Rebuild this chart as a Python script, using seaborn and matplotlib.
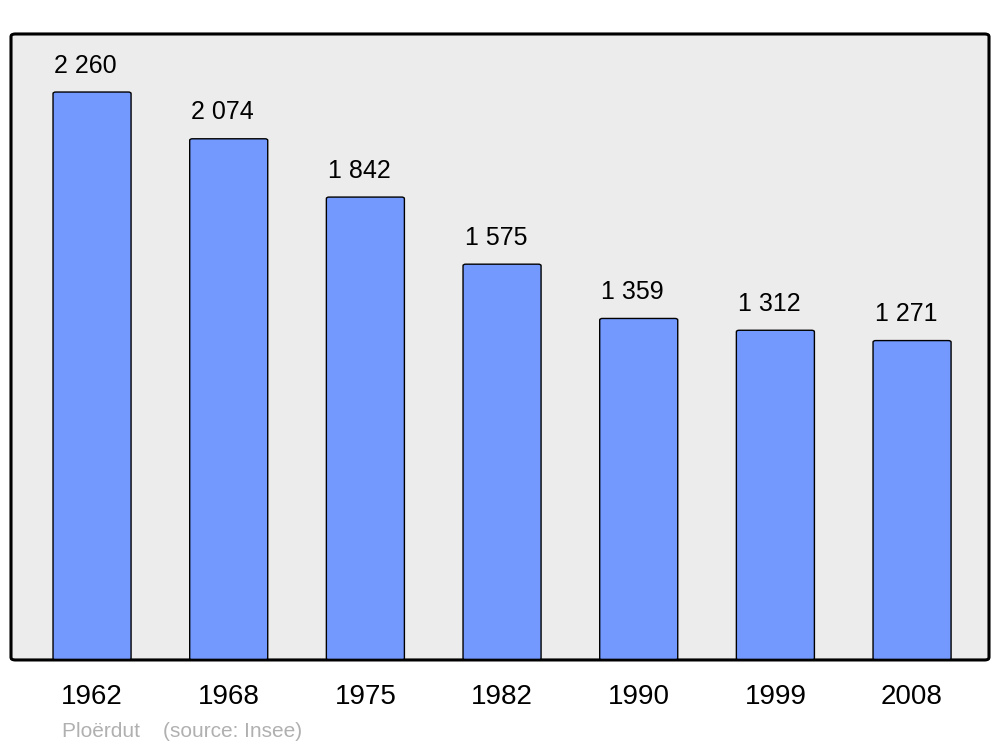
import matplotlib.pyplot as plt
import seaborn as sns
import pandas as pd
from matplotlib.patches import FancyBboxPatch

years = ["1962", "1968", "1975", "1982", "1990", "1999", "2008"]
population = [2260, 2074, 1842, 1575, 1359, 1312, 1271]
labels = ["2 260", "2 074", "1 842", "1 575", "1 359", "1 312", "1 271"]

df = pd.DataFrame({"year": years, "pop": population})

sns.set_style("white")
plt.rcParams["font.family"] = ["Liberation Sans", "DejaVu Sans"]
plt.rcParams["text.color"] = "black"
plt.rcParams["xtick.color"] = "black"

fig = plt.figure(figsize=(10, 7.47), dpi=100)
ax = fig.add_axes([0.011, 0.1165, 0.978, 0.838])
ax.set_facecolor("none")

sns.barplot(data=df, x="year", y="pop", color="#7399ff", width=0.571,
            saturation=1, edgecolor="black", linewidth=1.0, ax=ax)

# swap bars for rounded ones
for p in list(ax.patches):
    x, y, w, h = p.get_x(), p.get_y(), p.get_width(), p.get_height()
    p.remove()
    ax.add_patch(FancyBboxPatch((x, y), w, h, boxstyle="round,pad=0,rounding_size=0.02",
                                mutation_aspect=2491 / 7.16 * 0.9,
                                facecolor="#7399ff", edgecolor="black", linewidth=1.0,
                                zorder=2))

for i, (v, lab) in enumerate(zip(population, labels)):
    ax.annotate(lab, (i, v), xytext=(-4.5, 14), textcoords="offset points",
                ha="center", va="baseline", fontsize=18, color="black")

ax.set_xlim(-0.593, 6.563)
ax.set_ylim(0, 2491)
ax.set_yticks([])
ax.set_xlabel("")
ax.set_ylabel("")
ax.tick_params(axis="x", length=0, pad=17.5, labelsize=20, labelcolor="black")
for s in ax.spines.values():
    s.set_visible(False)

frame = FancyBboxPatch((0, 0), 1, 1, boxstyle="round,pad=0,rounding_size=0.004",
                       transform=ax.transAxes, facecolor="#ececec", edgecolor="black",
                       linewidth=1.9, zorder=0, clip_on=False)
ax.add_patch(frame)
frame2 = FancyBboxPatch((0, 0), 1, 1, boxstyle="round,pad=0,rounding_size=0.004",
                        transform=ax.transAxes, facecolor="none", edgecolor="black",
                        linewidth=1.9, zorder=5, clip_on=False)
ax.add_patch(frame2)

fig.text(0.062, 0.0134, "Ploërdut    (source: Insee)", color="#b0b0b0", fontsize=15,
         va="baseline")

fig.savefig("out.png", dpi=100)
